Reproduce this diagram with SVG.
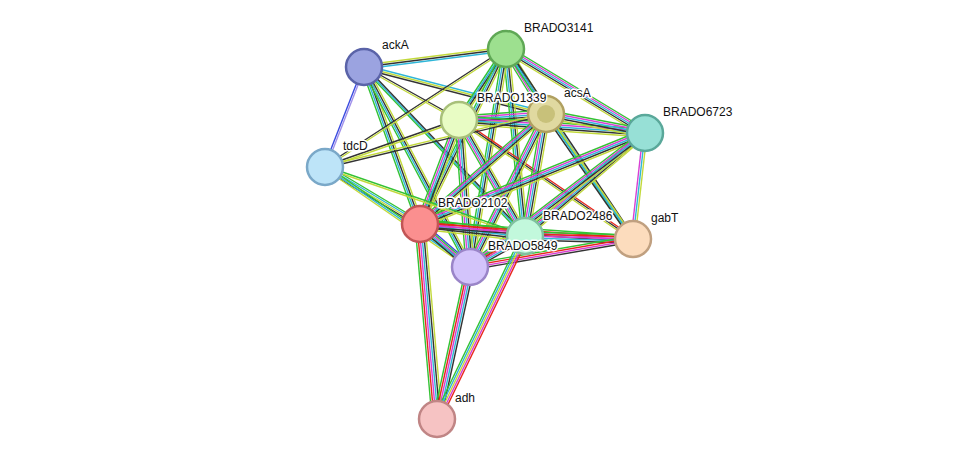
<svg xmlns="http://www.w3.org/2000/svg" xmlns:xlink="http://www.w3.org/1999/xlink" width="975" height="465" viewBox="0 0 975 465">
<style>
use{stroke-width:1.4;fill:none}
.g{stroke:#33c233}.r{stroke:#e8251c}.m{stroke:#d83fd3}.c{stroke:#2fb6d8}.k{stroke:#333}.y{stroke:#c2d93b}.b{stroke:#3a4be0}.l{stroke:#a090ea}
.n{stroke-width:2.5}
text{font-family:"Liberation Sans",Arial,sans-serif;font-size:12px;fill:#111;stroke:#fff;stroke-width:3;paint-order:stroke;stroke-linejoin:round}
</style>
<defs>
<line id="e1" x1="364" y1="67" x2="506" y2="49"/>
<line id="e2" x1="364" y1="67" x2="325" y2="167"/>
<line id="e3" x1="364" y1="67" x2="459" y2="120"/>
<line id="e4" x1="364" y1="67" x2="546" y2="114"/>
<line id="e5" x1="364" y1="67" x2="420" y2="224"/>
<line id="e6" x1="364" y1="67" x2="525" y2="236"/>
<line id="e7" x1="364" y1="67" x2="470" y2="267"/>
<line id="e8" x1="506" y1="49" x2="459" y2="120"/>
<line id="e9" x1="506" y1="49" x2="546" y2="114"/>
<line id="e10" x1="506" y1="49" x2="645" y2="133"/>
<line id="e11" x1="506" y1="49" x2="325" y2="167"/>
<line id="e12" x1="506" y1="49" x2="420" y2="224"/>
<line id="e13" x1="506" y1="49" x2="525" y2="236"/>
<line id="e14" x1="506" y1="49" x2="470" y2="267"/>
<line id="e15" x1="506" y1="49" x2="633" y2="239"/>
<line id="e16" x1="459" y1="120" x2="546" y2="114"/>
<line id="e17" x1="459" y1="120" x2="645" y2="133"/>
<line id="e18" x1="459" y1="120" x2="325" y2="167"/>
<line id="e19" x1="459" y1="120" x2="420" y2="224"/>
<line id="e20" x1="459" y1="120" x2="525" y2="236"/>
<line id="e21" x1="459" y1="120" x2="470" y2="267"/>
<line id="e22" x1="459" y1="120" x2="633" y2="239"/>
<line id="e23" x1="546" y1="114" x2="645" y2="133"/>
<line id="e24" x1="546" y1="114" x2="420" y2="224"/>
<line id="e25" x1="546" y1="114" x2="525" y2="236"/>
<line id="e26" x1="546" y1="114" x2="470" y2="267"/>
<line id="e27" x1="546" y1="114" x2="633" y2="239"/>
<line id="e28" x1="546" y1="114" x2="325" y2="167"/>
<line id="e29" x1="645" y1="133" x2="420" y2="224"/>
<line id="e30" x1="645" y1="133" x2="525" y2="236"/>
<line id="e31" x1="645" y1="133" x2="470" y2="267"/>
<line id="e32" x1="645" y1="133" x2="633" y2="239"/>
<line id="e33" x1="325" y1="167" x2="420" y2="224"/>
<line id="e34" x1="325" y1="167" x2="470" y2="267"/>
<line id="e35" x1="325" y1="167" x2="525" y2="236"/>
<line id="e36" x1="420" y1="224" x2="525" y2="236"/>
<line id="e37" x1="420" y1="224" x2="470" y2="267"/>
<line id="e38" x1="420" y1="224" x2="633" y2="239"/>
<line id="e39" x1="420" y1="224" x2="437" y2="419"/>
<line id="e40" x1="525" y1="236" x2="470" y2="267"/>
<line id="e41" x1="525" y1="236" x2="633" y2="239"/>
<line id="e42" x1="470" y1="267" x2="633" y2="239"/>
<line id="e43" x1="470" y1="267" x2="437" y2="419"/>
<line id="e44" x1="525" y1="236" x2="437" y2="419"/>
</defs>
<g id="edges">
<use href="#e1" class="y" transform="translate(0,-2)"/><use href="#e1" class="k"/><use href="#e1" class="c" transform="translate(0,2)"/>
<use href="#e2" class="b" transform="translate(-1,0)"/><use href="#e2" class="l" transform="translate(1,0)"/>
<use href="#e3" class="k" transform="translate(0,-1)"/><use href="#e3" class="y" transform="translate(0,1)"/>
<use href="#e4" class="c" transform="translate(0,-2)"/><use href="#e4" class="y"/><use href="#e4" class="k" transform="translate(0,2)"/>
<use href="#e5" class="g" transform="translate(-3,0)"/><use href="#e5" class="c" transform="translate(-1,0)"/><use href="#e5" class="k" transform="translate(1,0)"/><use href="#e5" class="y" transform="translate(3,0)"/>
<use href="#e6" class="g" transform="translate(-2,0)"/><use href="#e6" class="c"/><use href="#e6" class="k" transform="translate(2,0)"/>
<use href="#e7" class="g" transform="translate(-3,0)"/><use href="#e7" class="c" transform="translate(-1,0)"/><use href="#e7" class="k" transform="translate(1,0)"/><use href="#e7" class="y" transform="translate(3,0)"/>
<use href="#e8" class="g" transform="translate(-3,0)"/><use href="#e8" class="c" transform="translate(-1,0)"/><use href="#e8" class="k" transform="translate(1,0)"/><use href="#e8" class="y" transform="translate(3,0)"/>
<use href="#e9" class="g" transform="translate(-4,0)"/><use href="#e9" class="m" transform="translate(-2,0)"/><use href="#e9" class="c"/><use href="#e9" class="k" transform="translate(2,0)"/><use href="#e9" class="y" transform="translate(4,0)"/>
<use href="#e10" class="g" transform="translate(0,-4)"/><use href="#e10" class="m" transform="translate(0,-2)"/><use href="#e10" class="c"/><use href="#e10" class="k" transform="translate(0,2)"/><use href="#e10" class="y" transform="translate(0,4)"/>
<use href="#e11" class="k" transform="translate(0,-1)"/><use href="#e11" class="y" transform="translate(0,1)"/>
<use href="#e12" class="g" transform="translate(-3,0)"/><use href="#e12" class="c" transform="translate(-1,0)"/><use href="#e12" class="k" transform="translate(1,0)"/><use href="#e12" class="y" transform="translate(3,0)"/>
<use href="#e13" class="g" transform="translate(-3,0)"/><use href="#e13" class="c" transform="translate(-1,0)"/><use href="#e13" class="k" transform="translate(1,0)"/><use href="#e13" class="y" transform="translate(3,0)"/>
<use href="#e14" class="g" transform="translate(-3,0)"/><use href="#e14" class="c" transform="translate(-1,0)"/><use href="#e14" class="k" transform="translate(1,0)"/><use href="#e14" class="y" transform="translate(3,0)"/>
<use href="#e15" class="g" transform="translate(-2,0)"/><use href="#e15" class="c"/><use href="#e15" class="k" transform="translate(2,0)"/>
<use href="#e16" class="g" transform="translate(0,-4)"/><use href="#e16" class="m" transform="translate(0,-2)"/><use href="#e16" class="c"/><use href="#e16" class="k" transform="translate(0,2)"/><use href="#e16" class="y" transform="translate(0,4)"/>
<use href="#e17" class="g" transform="translate(0,-4)"/><use href="#e17" class="m" transform="translate(0,-2)"/><use href="#e17" class="c"/><use href="#e17" class="k" transform="translate(0,2)"/><use href="#e17" class="y" transform="translate(0,4)"/>
<use href="#e18" class="k" transform="translate(0,-1)"/><use href="#e18" class="y" transform="translate(0,1)"/>
<use href="#e19" class="g" transform="translate(-4,0)"/><use href="#e19" class="m" transform="translate(-2,0)"/><use href="#e19" class="c"/><use href="#e19" class="k" transform="translate(2,0)"/><use href="#e19" class="y" transform="translate(4,0)"/>
<use href="#e20" class="g" transform="translate(-4,0)"/><use href="#e20" class="m" transform="translate(-2,0)"/><use href="#e20" class="c"/><use href="#e20" class="k" transform="translate(2,0)"/><use href="#e20" class="y" transform="translate(4,0)"/>
<use href="#e21" class="g" transform="translate(-4,0)"/><use href="#e21" class="m" transform="translate(-2,0)"/><use href="#e21" class="c"/><use href="#e21" class="k" transform="translate(2,0)"/><use href="#e21" class="y" transform="translate(4,0)"/>
<use href="#e22" class="r" transform="translate(0,-2)"/><use href="#e22" class="k"/><use href="#e22" class="y" transform="translate(0,2)"/>
<use href="#e23" class="g" transform="translate(0,-4)"/><use href="#e23" class="m" transform="translate(0,-2)"/><use href="#e23" class="c"/><use href="#e23" class="k" transform="translate(0,2)"/><use href="#e23" class="y" transform="translate(0,4)"/>
<use href="#e24" class="g" transform="translate(0,-4)"/><use href="#e24" class="m" transform="translate(0,-2)"/><use href="#e24" class="c"/><use href="#e24" class="k" transform="translate(0,2)"/><use href="#e24" class="y" transform="translate(0,4)"/>
<use href="#e25" class="g" transform="translate(-4,0)"/><use href="#e25" class="m" transform="translate(-2,0)"/><use href="#e25" class="c"/><use href="#e25" class="k" transform="translate(2,0)"/><use href="#e25" class="y" transform="translate(4,0)"/>
<use href="#e26" class="g" transform="translate(-4,0)"/><use href="#e26" class="m" transform="translate(-2,0)"/><use href="#e26" class="c"/><use href="#e26" class="k" transform="translate(2,0)"/><use href="#e26" class="y" transform="translate(4,0)"/>
<use href="#e27" class="k" transform="translate(-2,0)"/><use href="#e27" class="c"/><use href="#e27" class="y" transform="translate(2,0)"/>
<use href="#e28" class="y" transform="translate(0,-1)"/><use href="#e28" class="k" transform="translate(0,1)"/>
<use href="#e29" class="g" transform="translate(0,-4)"/><use href="#e29" class="m" transform="translate(0,-2)"/><use href="#e29" class="c"/><use href="#e29" class="k" transform="translate(0,2)"/><use href="#e29" class="y" transform="translate(0,4)"/>
<use href="#e30" class="g" transform="translate(0,-4)"/><use href="#e30" class="m" transform="translate(0,-2)"/><use href="#e30" class="c"/><use href="#e30" class="k" transform="translate(0,2)"/><use href="#e30" class="y" transform="translate(0,4)"/>
<use href="#e31" class="g" transform="translate(0,-4)"/><use href="#e31" class="m" transform="translate(0,-2)"/><use href="#e31" class="c"/><use href="#e31" class="k" transform="translate(0,2)"/><use href="#e31" class="y" transform="translate(0,4)"/>
<use href="#e32" class="m" transform="translate(-2,0)"/><use href="#e32" class="c"/><use href="#e32" class="y" transform="translate(2,0)"/>
<use href="#e33" class="g" transform="translate(0,-3)"/><use href="#e33" class="c" transform="translate(0,-1)"/><use href="#e33" class="y" transform="translate(0,1)"/><use href="#e33" class="k" transform="translate(0,3)"/>
<use href="#e34" class="g" transform="translate(0,-2)"/><use href="#e34" class="c"/><use href="#e34" class="y" transform="translate(0,2)"/>
<use href="#e35" class="g" transform="translate(0,-1)"/><use href="#e35" class="y" transform="translate(0,1)"/>
<use href="#e36" class="g" transform="translate(0,-5)"/><use href="#e36" class="r" transform="translate(0,-3)"/><use href="#e36" class="m" transform="translate(0,-1)"/><use href="#e36" class="c" transform="translate(0,1)"/><use href="#e36" class="k" transform="translate(0,3)"/><use href="#e36" class="y" transform="translate(0,5)"/>
<use href="#e37" class="b" transform="translate(0,-4)"/><use href="#e37" class="g" transform="translate(0,-2)"/><use href="#e37" class="m"/><use href="#e37" class="c" transform="translate(0,2)"/><use href="#e37" class="k" transform="translate(0,4)"/>
<use href="#e38" class="g" transform="translate(0,-3)"/><use href="#e38" class="r" transform="translate(0,-1)"/><use href="#e38" class="m" transform="translate(0,1)"/><use href="#e38" class="k" transform="translate(0,3)"/>
<use href="#e39" class="g" transform="translate(-5,0)"/><use href="#e39" class="r" transform="translate(-3,0)"/><use href="#e39" class="m" transform="translate(-1,0)"/><use href="#e39" class="c" transform="translate(1,0)"/><use href="#e39" class="k" transform="translate(3,0)"/><use href="#e39" class="y" transform="translate(5,0)"/>
<use href="#e40" class="g" transform="translate(0,-4)"/><use href="#e40" class="r" transform="translate(0,-2)"/><use href="#e40" class="m"/><use href="#e40" class="c" transform="translate(0,2)"/><use href="#e40" class="k" transform="translate(0,4)"/>
<use href="#e41" class="g" transform="translate(0,-4)"/><use href="#e41" class="r" transform="translate(0,-2)"/><use href="#e41" class="m"/><use href="#e41" class="c" transform="translate(0,2)"/><use href="#e41" class="k" transform="translate(0,4)"/>
<use href="#e42" class="g" transform="translate(0,-3)"/><use href="#e42" class="r" transform="translate(0,-1)"/><use href="#e42" class="m" transform="translate(0,1)"/><use href="#e42" class="k" transform="translate(0,3)"/>
<use href="#e43" class="g" transform="translate(-4,0)"/><use href="#e43" class="r" transform="translate(-2,0)"/><use href="#e43" class="m"/><use href="#e43" class="c" transform="translate(2,0)"/><use href="#e43" class="k" transform="translate(4,0)"/>
<use href="#e44" class="g" transform="translate(-4,0)"/><use href="#e44" class="c" transform="translate(-2,0)"/><use href="#e44" class="y"/><use href="#e44" class="m" transform="translate(2,0)"/><use href="#e44" class="r" transform="translate(4,0)"/>
</g>
<g id="ackA"><circle class="n" cx="364" cy="67" r="18" fill="#9ba3e0" stroke="#5a63a8"/><text x="382" y="49">ackA</text></g>
<g id="BRADO3141"><circle class="n" cx="506" cy="49" r="18" fill="#9de08f" stroke="#5fa855"/><text x="524" y="32">BRADO3141</text></g>
<g id="acsA"><circle class="n" cx="546" cy="114" r="18" fill="#e0d9a0" stroke="#b0a060"/><circle cx="546" cy="114" r="9" fill="#b8b060" opacity="0.6"/><text x="564" y="97">acsA</text></g>
<g id="BRADO1339"><circle class="n" cx="459" cy="120" r="18" fill="#e8fcc4" stroke="#a8c07a"/><text x="477" y="102">BRADO1339</text></g>
<g id="BRADO6723"><circle class="n" cx="645" cy="133" r="18" fill="#97e0d6" stroke="#5aa89a"/><text x="663" y="116">BRADO6723</text></g>
<g id="tdcD"><circle class="n" cx="325" cy="167" r="18" fill="#bde4f8" stroke="#7aa8c8"/><text x="343" y="150">tdcD</text></g>
<g id="gabT"><circle class="n" cx="633" cy="239" r="18" fill="#fcdcbd" stroke="#c0a080"/><text x="651" y="222">gabT</text></g>
<g id="BRADO2486"><circle class="n" cx="525" cy="236" r="18" fill="#c2f8dc" stroke="#80c0a0"/><text x="543" y="220">BRADO2486</text></g>
<g id="BRADO2102"><circle class="n" cx="420" cy="224" r="18" fill="#fb8f8f" stroke="#c25555"/><text x="438" y="207">BRADO2102</text></g>
<g id="BRADO5849"><circle class="n" cx="470" cy="267" r="18" fill="#d3c4fb" stroke="#9a85c8"/><text x="488" y="250">BRADO5849</text></g>
<g id="adh"><circle class="n" cx="437" cy="419" r="18" fill="#f6c3c3" stroke="#c08585"/><text x="455" y="402">adh</text></g>
</svg>
